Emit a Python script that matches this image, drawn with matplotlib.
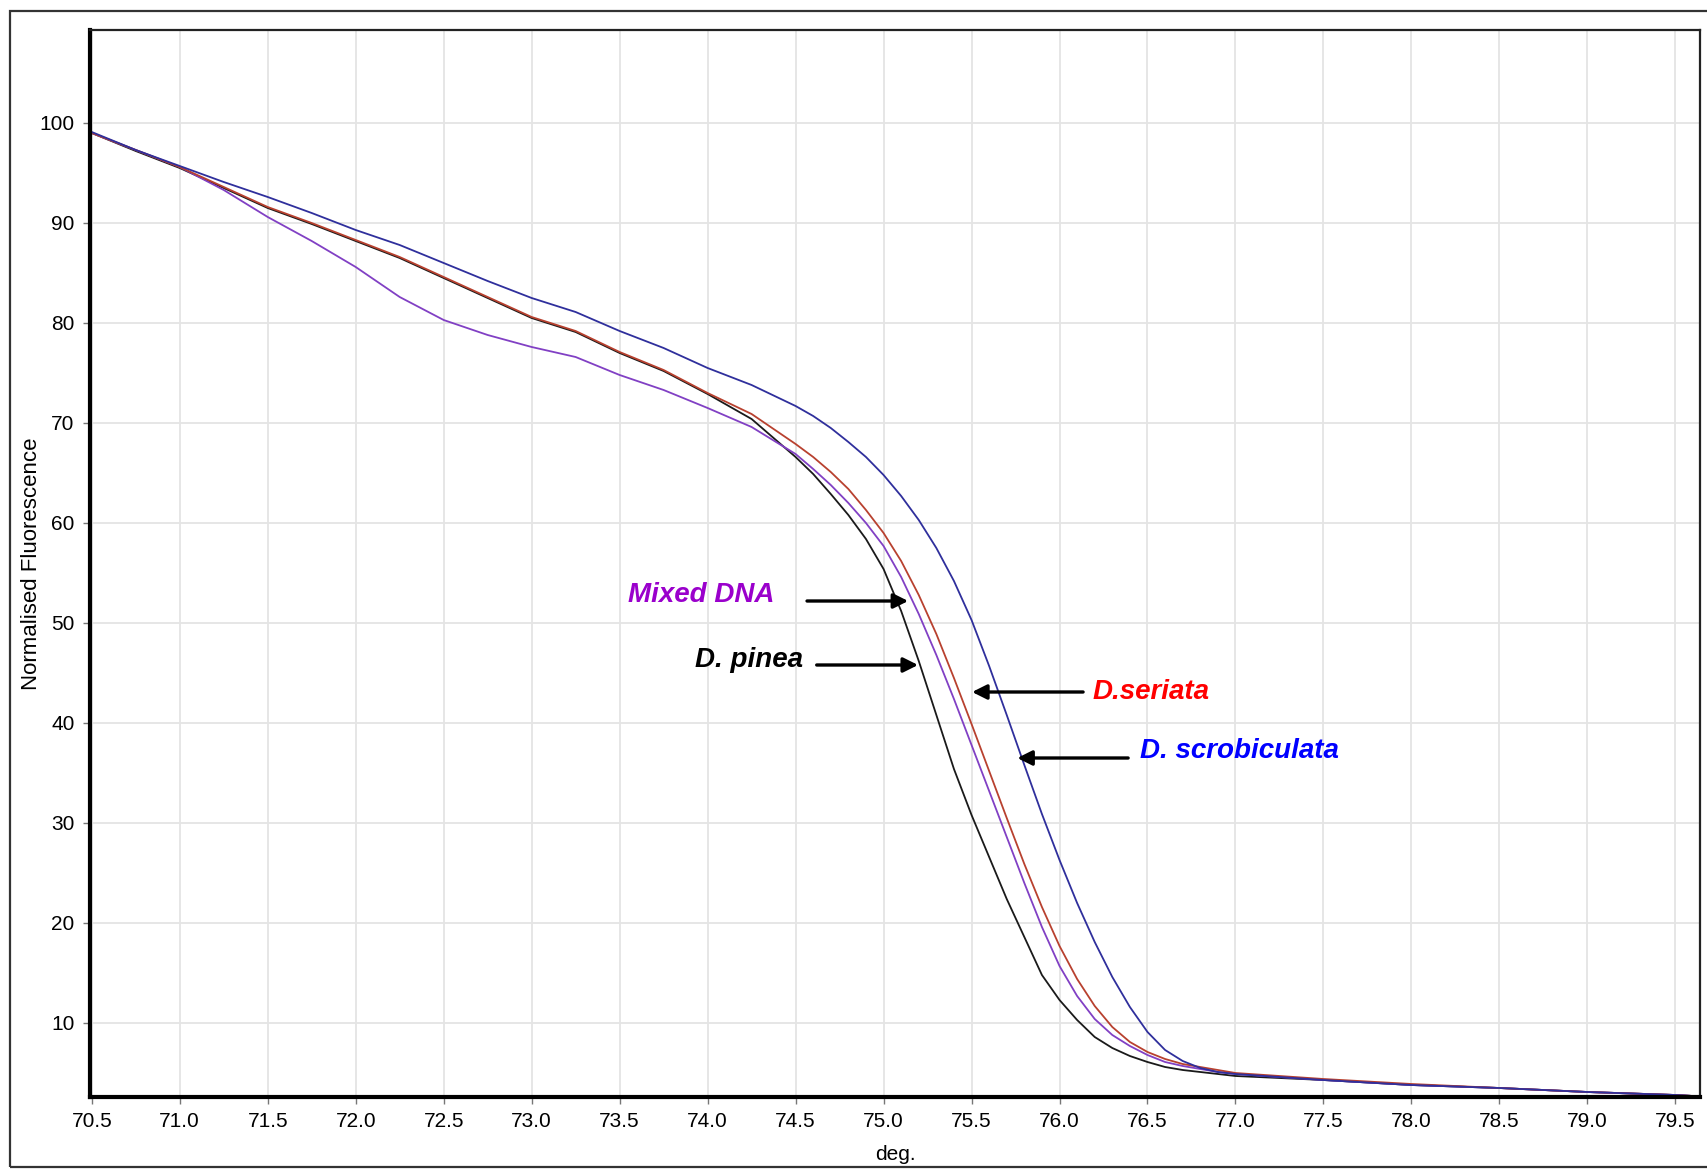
import matplotlib
matplotlib.use("Agg")
import matplotlib.pyplot as plt
from matplotlib.patches import Rectangle

plt.rcParams['font.family'] = ['Liberation Sans', 'DejaVu Sans']

# melt curves (deg, normalised fluorescence)
t_common = [70.5, 70.75, 71.0, 71.25, 71.5, 71.75, 72.0, 72.25, 72.5, 72.75,
            73.0, 73.25, 73.5, 73.75, 74.0, 74.25]
fine_t = [74.5, 74.6, 74.7, 74.8, 74.9, 75.0, 75.1, 75.2, 75.3, 75.4, 75.5,
          75.6, 75.7, 75.8, 75.9, 76.0, 76.1, 76.2, 76.3, 76.4, 76.5, 76.6,
          76.7, 76.8, 76.9, 77.0]
tail_t = [77.5, 78.0, 78.5, 79.0, 79.5, 79.6]
temps = t_common + fine_t + tail_t

scrob_f = [99.1, 97.3, 95.7, 94.1, 92.6, 91.0, 89.3, 87.8, 86.0, 84.2,
           82.5, 81.1, 79.2, 77.5, 75.5, 73.8,
           71.7, 70.7, 69.5, 68.1, 66.6, 64.8, 62.7, 60.3, 57.5, 54.2, 50.3,
           45.7, 40.8, 35.8, 30.9, 26.3, 22.0, 18.1, 14.6, 11.6, 9.1, 7.3,
           6.2, 5.5, 5.1, 4.9,
           4.3, 3.8, 3.5, 3.1, 2.8, 2.7]

seriata_f = [99.0, 97.3, 95.6, 93.6, 91.6, 90.0, 88.3, 86.6, 84.6, 82.6,
             80.6, 79.2, 77.1, 75.3, 73.0, 70.9,
             67.9, 66.6, 65.1, 63.4, 61.3, 59.0, 56.2, 52.8, 48.9, 44.5, 39.9,
             35.2, 30.5, 25.9, 21.6, 17.7, 14.4, 11.7, 9.6, 8.1, 7.1, 6.4,
             5.9, 5.6, 5.3, 5.0,
             4.4, 3.9, 3.5, 3.1, 2.8, 2.7]

mixed_f = [99.0, 97.3, 95.6, 93.3, 90.6, 88.2, 85.6, 82.6, 80.3, 78.8,
           77.6, 76.6, 74.8, 73.3, 71.5, 69.6,
           66.9, 65.4, 63.8, 62.0, 60.0, 57.7, 54.6, 50.9, 46.8, 42.4, 37.8,
           33.2, 28.6, 24.0, 19.6, 15.7, 12.7, 10.4, 8.8, 7.7, 6.8, 6.1,
           5.7, 5.4, 5.1, 4.9,
           4.3, 3.8, 3.5, 3.1, 2.8, 2.7]

pinea_f = [99.0, 97.2, 95.5, 93.5, 91.5, 89.9, 88.2, 86.5, 84.5, 82.5,
           80.5, 79.1, 77.0, 75.2, 72.9, 70.4,
           66.6, 64.9, 62.9, 60.8, 58.4, 55.4, 51.2, 46.2, 40.8, 35.4, 30.8,
           26.6, 22.4, 18.6, 14.8, 12.3, 10.3, 8.6, 7.5, 6.7, 6.1, 5.6,
           5.3, 5.1, 4.9, 4.7,
           4.3, 3.8, 3.5, 3.1, 2.8, 2.7]

x_ticks = [70.5 + 0.5 * i for i in range(19)]
y_ticks = [10, 20, 30, 40, 50, 60, 70, 80, 90, 100]

fig = plt.figure(figsize=(17.08, 11.69), dpi=100)
ax = fig.add_axes([90 / 1708, 1 - 1097 / 1169, 1610 / 1708, 1067 / 1169])

# outer window frame
fig.patches.append(Rectangle((10 / 1708, 2 / 1169), 1.0, 1 - 13 / 1169,
                             transform=fig.transFigure, fill=False,
                             edgecolor='#333333', lw=1.6, clip_on=False))

ax.plot(temps, pinea_f, color='#1a1a1a', lw=1.3)
ax.plot(temps, mixed_f, color='#8140c4', lw=1.3)
ax.plot(temps, seriata_f, color='#b8412f', lw=1.3)
ax.plot(temps, scrob_f, color='#2f2f9c', lw=1.3)

ax.set_xlim(70.49, 79.64)
ax.set_ylim(2.6, 109.3)
ax.set_xticks(x_ticks)
ax.set_xticklabels(['{:.1f}'.format(v) for v in x_ticks])
ax.set_yticks(y_ticks)
ax.grid(True, color='#e4e4e4', lw=1.3)
ax.set_axisbelow(True)
ax.tick_params(direction='out', length=5, width=1, color='#777777',
               labelsize=15, pad=6)

for s in ['left', 'bottom']:
    ax.spines[s].set_linewidth(3.0)
    ax.spines[s].set_color('black')
for s in ['top', 'right']:
    ax.spines[s].set_linewidth(1.6)
    ax.spines[s].set_color('#222222')

ax.set_xlabel('deg.', fontsize=15, labelpad=10)
ax.set_ylabel('Normalised Fluorescence', fontsize=16)
ax.yaxis.set_label_coords(-0.030, 0.5)

lbl = dict(fontsize=20, fontweight='bold', fontstyle='italic', va='center')
arr = dict(arrowstyle='-|>', lw=2.4, color='black', mutation_scale=22,
           shrinkA=0, shrinkB=0)

ax.text(73.547, 52.8, 'Mixed DNA', color='#9a00cc', **lbl)
ax.annotate('', xy=(75.14, 52.2), xytext=(74.565, 52.2), arrowprops=arr)
ax.text(73.928, 46.3, 'D. pinea', color='black', **lbl)
ax.annotate('', xy=(75.196, 45.8), xytext=(74.62, 45.8), arrowprops=arr)
ax.text(76.19, 43.1, 'D.seriata', color='#ff0000', **lbl)
ax.annotate('', xy=(75.503, 43.1), xytext=(76.134, 43.1), arrowprops=arr)
ax.text(76.46, 37.2, 'D. scrobiculata', color='#0000ff', **lbl)
ax.annotate('', xy=(75.76, 36.5), xytext=(76.39, 36.5), arrowprops=arr)

fig.savefig('out.png', dpi=100)
